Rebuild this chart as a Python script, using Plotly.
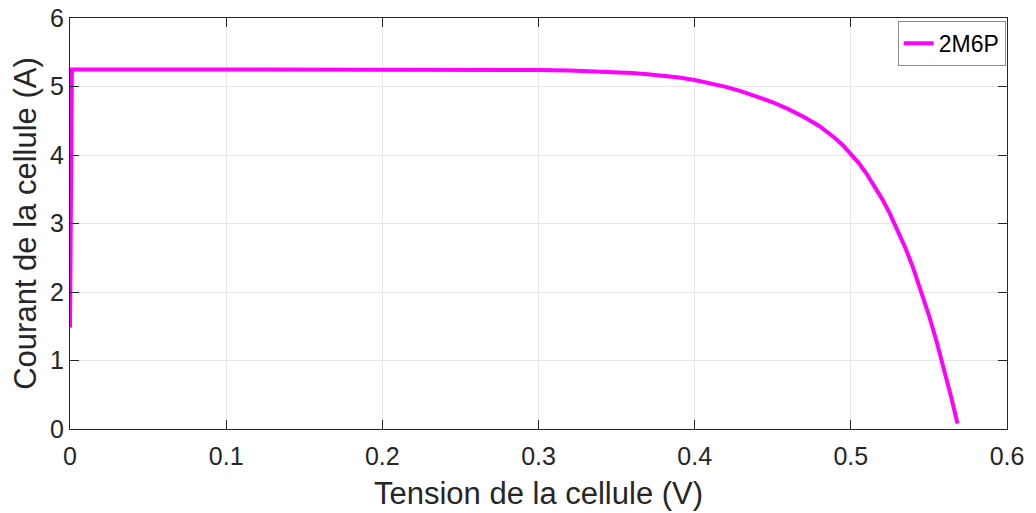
import plotly.graph_objects as go

# Values
tension = [0.0, 0.0012, 0.05, 0.10, 0.15, 0.20, 0.25, 0.30, 0.32, 0.34, 0.36,
           0.37, 0.38, 0.39, 0.40, 0.41, 0.42, 0.43, 0.44, 0.45, 0.46, 0.47,
           0.48, 0.485, 0.49, 0.495, 0.50, 0.505, 0.51, 0.515, 0.52, 0.525,
           0.53, 0.535, 0.54, 0.545, 0.55, 0.555, 0.56, 0.5642, 0.5683]
courant = [1.48, 5.25, 5.25, 5.25, 5.249, 5.248, 5.246, 5.240, 5.232, 5.218, 5.197,
           5.180, 5.160, 5.132, 5.095, 5.050, 4.995, 4.930, 4.855, 4.770, 4.670, 4.555,
           4.420, 4.340, 4.245, 4.140, 4.020, 3.885, 3.730, 3.555, 3.360, 3.145,
           2.905, 2.640, 2.345, 2.020, 1.660, 1.270, 0.845, 0.470, 0.080]

x_ticks = [0, 0.1, 0.2, 0.3, 0.4, 0.5, 0.6]
x_tick_labels = ["0", "0.1", "0.2", "0.3", "0.4", "0.5", "0.6"]
y_ticks = [0, 1, 2, 3, 4, 5, 6]
y_tick_labels = ["0", "1", "2", "3", "4", "5", "6"]
series_name = "2M6P"

axis_color = "#262626"
grid_color = "#e6e6e6"
font_family = "Liberation Sans, Arial, sans-serif"

fig = go.Figure()
fig.add_trace(go.Scatter(
    x=tension, y=courant, mode="lines", name=series_name,
    line=dict(color="#ff00ff", width=4),
))

common = dict(
    showline=True, linecolor=axis_color, linewidth=1.3, mirror="allticks",
    ticks="inside", ticklen=9, tickwidth=1, tickcolor=axis_color,
    showgrid=True, gridcolor=grid_color, gridwidth=1, zeroline=False,
    tickfont=dict(family=font_family, size=25, color=axis_color),
)

fig.update_xaxes(
    range=[0, 0.6], tickvals=x_ticks, ticktext=x_tick_labels,
    ticklabelstandoff=5,
    title=dict(text="Tension de la cellule (V)", standoff=13,
               font=dict(family=font_family, size=31, color=axis_color)),
    **common,
)
fig.update_yaxes(
    range=[0, 6], tickvals=y_ticks, ticktext=y_tick_labels,
    title=dict(text="Courant de la cellule (A)", standoff=4,
               font=dict(family=font_family, size=31, color=axis_color)),
    **common,
)

fig.update_layout(
    width=1036, height=513,
    margin=dict(l=70, r=29, t=18, b=84, autoexpand=False),
    paper_bgcolor="white", plot_bgcolor="white",
    showlegend=True,
    legend=dict(
        x=0.9986, y=0.9934, xanchor="right", yanchor="top",
        bgcolor="white", bordercolor="#8c8c8c", borderwidth=1,
        font=dict(family=font_family, size=23, color="black"),
        itemwidth=30, tracegroupgap=0,
    ),
)

fig.write_html("out.html")
